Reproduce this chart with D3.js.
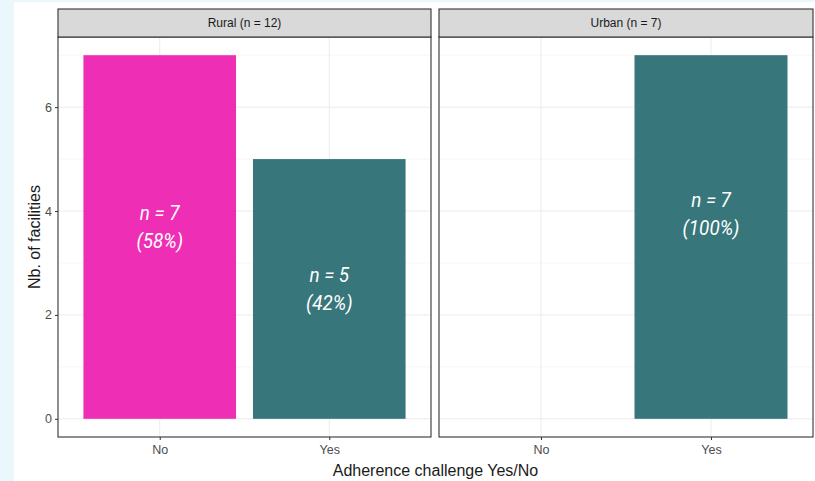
<!DOCTYPE html>
<html>
<head>
<meta charset="utf-8">
<script src="https://cdn.jsdelivr.net/npm/d3@7"></script>
<style>
  body { margin: 0; background: #eaf8fb; }
  svg { display: block; }
</style>
</head>
<body>
<script>
// facets, categories and counts
var facets = ["Rural (n = 12)", "Urban (n = 7)"];
var categories = ["No", "Yes"];
var rural = [7, 5];
var urban = [0, 7];
var ruralPct = ["58%", "42%"];
var urbanPct = ["", "100%"];
var labelPos = [[3.7, 2.5], [null, 3.95]];   // where the text blocks sit (data units)
var yTicks = [0, 2, 4, 6];
var yMinor = [1, 3, 5, 7];
var fills = {"No": "#ee2fb6", "Yes": "#37767a"};

var W = 815, H = 481;
var svg = d3.select("body").append("svg").attr("width", W).attr("height", H);

// white card on the cyan page
svg.append("rect").attr("x", 14).attr("y", 2).attr("width", W - 14).attr("height", H - 2).attr("fill", "#fff");

var panelTop = 37, panelBottom = 437, stripTop = 9;
var panels = [{x0: 58, x1: 431, vals: rural, pct: ruralPct}, {x0: 439, x1: 813, vals: urban, pct: urbanPct}];

var y = d3.scaleLinear().domain([-0.35, 7.35]).range([panelBottom, panelTop]);

panels.forEach(function(p, pi) {
    // ggplot-like discrete expansion: 0.6 of a step each side
    var xp = d3.scalePoint().domain(categories).range([p.x0, p.x1]).padding(0.6);
    var step = xp.step();
    var g = svg.append("g");

    // grid
    g.selectAll(".minor").data(yMinor).enter().append("line")
        .attr("x1", p.x0).attr("x2", p.x1)
        .attr("y1", function(d) { return y(d); }).attr("y2", function(d) { return y(d); })
        .attr("stroke", "#f4f4f4").attr("stroke-width", 0.8);
    g.selectAll(".major").data(yTicks).enter().append("line")
        .attr("x1", p.x0).attr("x2", p.x1)
        .attr("y1", function(d) { return y(d); }).attr("y2", function(d) { return y(d); })
        .attr("stroke", "#ebebeb").attr("stroke-width", 1);
    g.selectAll(".vmajor").data(categories).enter().append("line")
        .attr("x1", function(d) { return xp(d); }).attr("x2", function(d) { return xp(d); })
        .attr("y1", panelTop).attr("y2", panelBottom)
        .attr("stroke", "#ebebeb").attr("stroke-width", 1);

    // bars
    var rows = categories.map(function(c, i) { return {cat: c, n: p.vals[i], pct: p.pct[i], ly: labelPos[pi][i]}; })
        .filter(function(d) { return d.n > 0; });
    g.selectAll(".bar").data(rows).enter().append("rect")
        .attr("x", function(d) { return xp(d.cat) - step * 0.45; })
        .attr("width", step * 0.9)
        .attr("y", function(d) { return y(d.n); })
        .attr("height", function(d) { return y(0) - y(d.n); })
        .attr("fill", function(d) { return fills[d.cat]; });

    var lab = g.selectAll(".lab").data(rows).enter().append("text")
        .attr("text-anchor", "middle")
        .attr("fill", "#fff")
        .style("font-family", "Roboto, sans-serif")
        .style("font-style", "italic")
        .style("font-size", "21px")
        .attr("transform", function(d) { return "translate(" + xp(d.cat) + "," + y(d.ly) + ") scale(0.9,1)"; });
    lab.append("tspan").attr("x", 0).attr("y", -7).text(function(d) { return "n = " + d.n; });
    lab.append("tspan").attr("x", 0).attr("y", 21).text(function(d) { return "(" + d.pct + ")"; });

    // panel border
    g.append("rect").attr("x", p.x0).attr("y", panelTop).attr("width", p.x1 - p.x0).attr("height", panelBottom - panelTop)
        .attr("fill", "none").attr("stroke", "#333").attr("stroke-width", 1.1);

    // strip
    g.append("rect").attr("x", p.x0).attr("y", stripTop).attr("width", p.x1 - p.x0).attr("height", panelTop - stripTop)
        .attr("fill", "#d9d9d9").attr("stroke", "#333").attr("stroke-width", 1.1);
    g.append("text").attr("x", (p.x0 + p.x1) / 2).attr("y", (stripTop + panelTop) / 2 + 4)
        .attr("text-anchor", "middle").attr("fill", "#1a1a1a")
        .style("font-family", "Liberation Sans, Arial, sans-serif").style("font-size", "12px")
        .text(facets[pi]);

    // x axis
    var xa = svg.append("g").attr("transform", "translate(0," + panelBottom + ")")
        .call(d3.axisBottom(xp).tickSize(3).tickPadding(5));
    xa.select(".domain").remove();
    xa.selectAll("line").attr("stroke", "#333");
    xa.selectAll("text").attr("fill", "#4d4d4d").style("font-family", "Liberation Sans, Arial, sans-serif").style("font-size", "12.5px");
});

// y axis on the first panel
var ya = svg.append("g").attr("transform", "translate(58,0)")
    .call(d3.axisLeft(y).tickValues(yTicks).tickSize(3).tickPadding(3));
ya.select(".domain").remove();
ya.selectAll("line").attr("stroke", "#333");
ya.selectAll("text").attr("fill", "#4d4d4d").style("font-family", "Liberation Sans, Arial, sans-serif").style("font-size", "12.5px");

// axis titles
svg.append("text").attr("x", 435.5).attr("y", 476).attr("text-anchor", "middle")
    .style("font-family", "Liberation Sans, Arial, sans-serif").style("font-size", "16px").attr("fill", "#1a1a1a")
    .text("Adherence challenge Yes/No");
svg.append("text").attr("transform", "translate(40," + (panelTop + panelBottom) / 2 + ") rotate(-90)")
    .attr("text-anchor", "middle")
    .style("font-family", "Liberation Sans, Arial, sans-serif").style("font-size", "16px").attr("fill", "#1a1a1a")
    .text("Nb. of facilities");
</script>
</body>
</html>
